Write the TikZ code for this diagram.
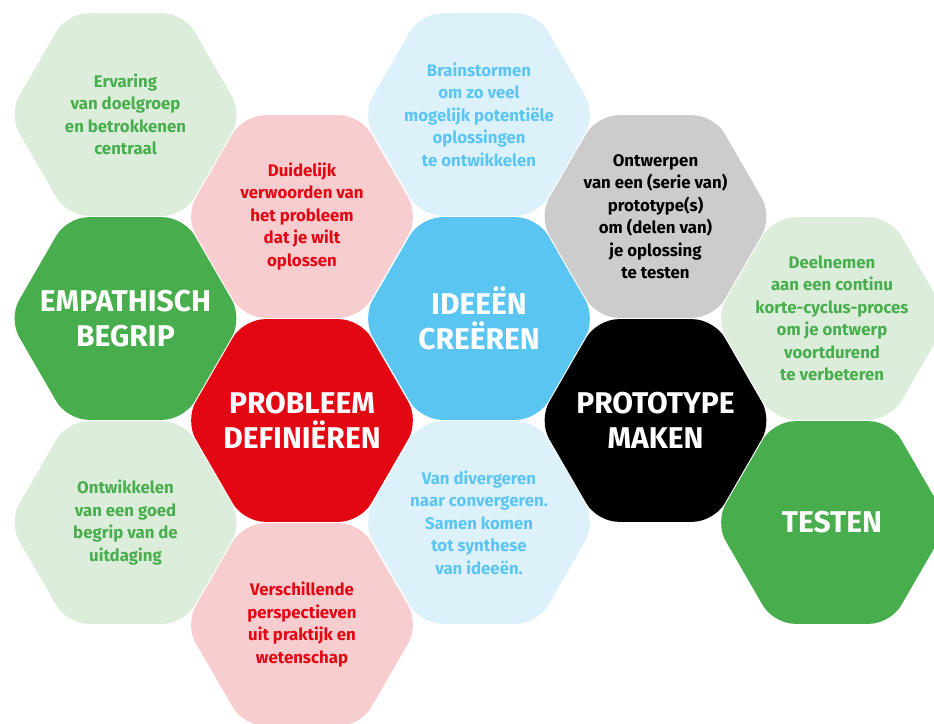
\documentclass[tikz,border=0pt]{standalone}
\usepackage{fontspec}
\setmainfont{Fira Sans}
\definecolor{lgreen}{HTML}{DCEDDB}
\definecolor{tgreen}{HTML}{48AE4D}
\definecolor{dgreen}{HTML}{48AD4C}
\definecolor{lpink}{HTML}{F7CDCF}
\definecolor{tred}{HTML}{E30613}
\definecolor{lblue}{HTML}{DDF1FB}
\definecolor{tblue}{HTML}{5BC5F2}
\definecolor{lgray}{HTML}{CCCCCC}
\tikzset{
  smalltxt/.style={align=center, font=\bfseries\fontsize{16.8}{22.5}\selectfont},
  bigtxt/.style={align=center, font=\bfseries\fontsize{30}{35}\selectfont},
}
% #1 name, #2 x, #3 y, #4 fill colour, #5 text style, #6 text colour, #7 text
\newcommand\hexcell[7]{%
  \fill[#4, rounded corners=21pt] (#2+117,#3) -- (#2+58.5,#3+101.3) -- (#2-58.5,#3+101.3)
    -- (#2-117,#3) -- (#2-58.5,#3-101.3) -- (#2+58.5,#3-101.3) -- cycle;
  \node[#5, text=#6] (#1) at (#2,#3) {#7};
}
\begin{document}
\begin{tikzpicture}[x=1pt, y=-1pt]
\useasboundingbox (0,0) rectangle (934,723);
\begin{scope}
\clip (0,0) rectangle (934,723);
\hexcell{erv}{125.5}{114.5}{lgreen}{smalltxt}{tgreen}{Ervaring\\van doelgroep\\en betrokkenen\\centraal}
\hexcell{emp}{125.5}{318.5}{dgreen}{bigtxt}{white}{EMPATHISCH\\BEGRIP}
\hexcell{ontwik}{125.5}{522.5}{lgreen}{smalltxt}{tgreen}{Ontwikkelen\\van een goed\\begrip van de\\uitdaging}
\hexcell{duid}{302}{216.5}{lpink}{smalltxt}{tred}{Duidelijk\\verwoorden van\\het probleem\\dat je wilt\\oplossen}
\hexcell{prob}{302}{420.5}{tred}{bigtxt}{white}{PROBLEEM\\DEFINIËREN}
\hexcell{versch}{302}{624.5}{lpink}{smalltxt}{tred}{Verschillende\\perspectieven\\uit praktijk en\\wetenschap}
\hexcell{brain}{479}{114.5}{lblue}{smalltxt}{tblue}{Brainstormen\\om zo veel\\mogelijk potentiële\\oplossingen\\te ontwikkelen}
\hexcell{idee}{479}{318.5}{tblue}{bigtxt}{white}{IDEEËN\\CREËREN}
\hexcell{diver}{479}{522.5}{lblue}{smalltxt}{tblue}{Van divergeren\\naar convergeren.\\Samen komen\\tot synthese\\van ideeën.}
\hexcell{ontw}{655.5}{216.5}{lgray}{smalltxt}{black}{Ontwerpen\\van een (serie van)\\prototype(s)\\om (delen van)\\je oplossing\\te testen}
\hexcell{proto}{655.5}{420.5}{black}{bigtxt}{white}{PROTOTYPE\\MAKEN}
\hexcell{deel}{832}{318.5}{lgreen}{smalltxt}{tgreen}{Deelnemen\\aan een continu\\korte-cyclus-proces\\om je ontwerp\\voortdurend\\te verbeteren}
\hexcell{test}{832}{522.5}{dgreen}{bigtxt}{white}{TESTEN}
\end{scope}
\end{tikzpicture}
\end{document}
